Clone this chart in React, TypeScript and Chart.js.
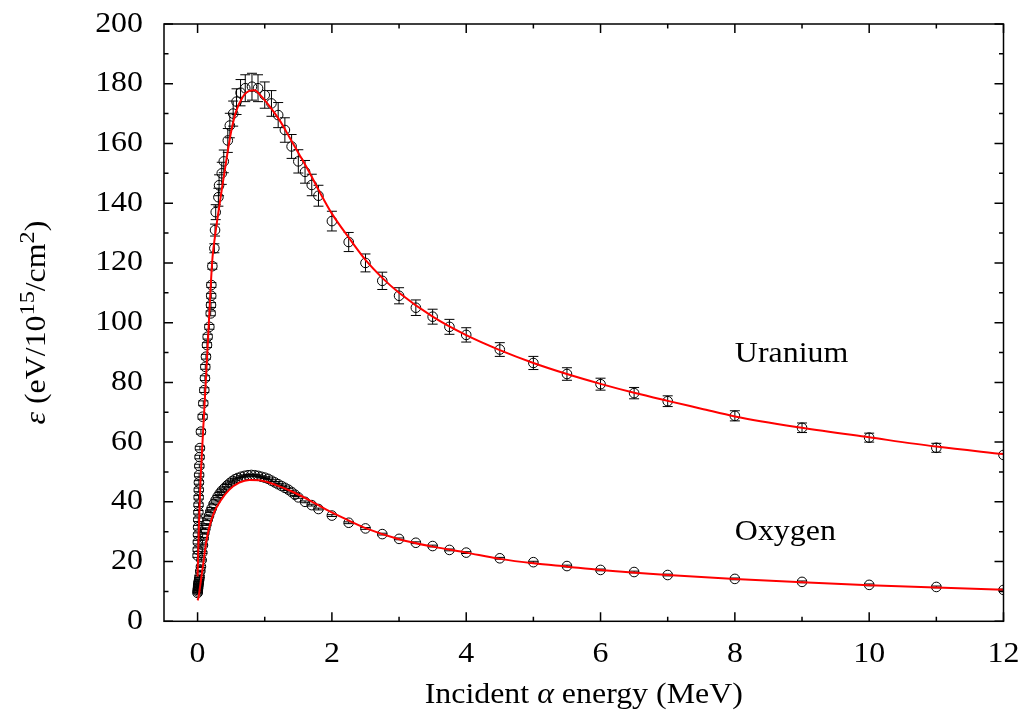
import React, { useEffect, useRef } from 'react';
import { Chart, registerables } from 'chart.js';

Chart.register(...registerables);

// ---------------- data ----------------
const uraniumEnergy = [
  0.0, 0.002, 0.004, 0.006, 0.008, 0.01, 0.012, 0.014, 0.016, 0.018,
  0.02, 0.023, 0.026, 0.03, 0.035,
  0.05, 0.075, 0.085, 0.1, 0.11, 0.115, 0.125, 0.14, 0.15, 0.175,
  0.195, 0.2, 0.203, 0.205, 0.22, 0.25, 0.26, 0.27, 0.31, 0.32,
  0.36, 0.39, 0.45, 0.48, 0.53, 0.58, 0.64, 0.71, 0.81, 0.9,
  1.0, 1.1, 1.2, 1.3, 1.4, 1.5, 1.6, 1.7, 1.8,
  2, 2.25, 2.5, 2.75, 3, 3.25, 3.5, 3.75, 4,
  4.5, 5, 5.5, 6, 6.5, 7,
  8, 9, 10, 11, 12,
];
const uraniumValue = [
  22, 24, 26.5, 29, 31.5, 34, 36.5, 39, 41.5, 44,
  46.5, 49, 52, 55, 58,
  63.5, 68.5, 73, 77.4, 81.4, 85.2, 88.6, 92.5, 95.3, 98.6,
  103.1, 105.9, 109, 112.6, 118.9, 124.9, 131, 137, 142, 146,
  150, 154, 161, 166, 170, 174, 177, 178.5, 179, 178.5,
  176.2, 173.4, 169.5, 164.5, 159, 154, 150.5, 146.1, 142.5,
  134, 127, 120, 114, 109, 105, 102, 98.6, 95.9,
  91, 86.5, 82.8, 79.4, 76.4, 73.7,
  68.8, 64.8, 61.5, 58.1, 55.7,
];
const uraniumError = [
  0.6, 0.6, 0.6, 0.6, 0.6, 0.6, 0.6, 0.6, 0.6, 0.6,
  0.6, 0.6, 0.6, 0.6, 0.6,
  0.8, 0.8, 0.8, 0.8, 0.8, 0.8, 0.8, 0.8, 0.8, 0.8,
  0.8, 0.8, 0.8, 0.8, 1.0, 1.5, 2.0, 2.5, 3.0, 3.5,
  3.7, 3.8, 4.0, 4.1, 4.2, 4.3, 4.4, 4.5, 4.5, 4.5,
  4.4, 4.3, 4.2, 4.1, 4.0, 3.9, 3.8, 3.6, 3.5,
  3.3, 3.2, 3.0, 2.9, 2.7, 2.6, 2.5, 2.5, 2.4,
  2.3, 2.2, 2.1, 2.0, 1.9, 1.8,
  1.7, 1.6, 1.5, 1.5, 0,
];

const oxygenEnergy = [
  0.0, 0.002, 0.004, 0.006, 0.008, 0.01, 0.013, 0.016, 0.02, 0.025,
  0.03, 0.04, 0.05, 0.06, 0.07, 0.08, 0.09, 0.1, 0.115, 0.13,
  0.15, 0.17, 0.19, 0.21, 0.24, 0.27, 0.3, 0.33, 0.36, 0.4,
  0.44, 0.48, 0.52, 0.56, 0.6, 0.65, 0.7, 0.75, 0.8, 0.85,
  0.9, 0.95, 1.0, 1.05, 1.1, 1.15, 1.2, 1.25, 1.3, 1.35,
  1.4, 1.45, 1.5, 1.6, 1.7, 1.8, 2, 2.25, 2.5, 2.75,
  3, 3.25, 3.5, 3.75, 4, 4.5, 5, 5.5, 6, 6.5,
  7, 8, 9, 10, 11, 12,
];
const oxygenValue = [
  9.5, 10, 10.5, 11, 11.5, 12, 12.5, 13, 13.5, 14.2,
  15, 16.8, 18.3, 20.5, 23, 25.5, 27.8, 29.5, 31, 32.4,
  34, 35.3, 36.7, 37.8, 39.3, 40.6, 41.8, 42.8, 43.7, 44.6,
  45.5, 46.3, 47, 47.6, 48, 48.4, 48.7, 48.9, 49, 48.9,
  48.7, 48.4, 48.1, 47.7, 47.1, 46.5, 45.9, 45.3, 44.7, 44.1,
  43.3, 42.4, 41.5, 40.0, 38.9, 37.6, 35.4, 33.0, 31.1, 29.2,
  27.6, 26.3, 25.2, 23.9, 23.0, 21.1, 19.8, 18.5, 17.2, 16.5,
  15.5, 14.2, 13.2, 12.2, 11.5, 10.5,
];
const oxygenErrorBar = 0.3;

const uraniumFitEnergy = [
  0, 0.01, 0.02, 0.04, 0.066, 0.1, 0.15, 0.2, 0.223, 0.26,
  0.3, 0.37, 0.45, 0.5, 0.57, 0.67, 0.77, 0.85, 0.94, 1.07,
  1.22, 1.37, 1.51, 1.66, 1.8, 2, 2.25, 2.5, 2.75, 3,
  3.5, 4, 4.5, 5, 5.5, 6, 6.5, 7, 7.5, 8,
  9, 10, 11, 12,
];
const uraniumFitValue = [
  15, 24, 32, 45, 57, 71, 92, 114, 122, 129,
  135.5, 146, 157.5, 164, 170.5, 175.5, 177.6, 177.8, 176, 172.5,
  167.8, 162, 156.5, 150.5, 144.5, 136.5, 128.5, 121, 115, 110,
  102, 95.8, 90.8, 86.5, 82.8, 79.5, 76.5, 73.8, 71.2, 68.6,
  64.8, 61.6, 58.5, 56,
];

const oxygenFitEnergy = [
  0, 0.015, 0.05, 0.085, 0.125, 0.174, 0.25, 0.35, 0.47, 0.62,
  0.77, 0.92, 1.17, 1.42, 1.66, 1.91, 2.16, 2.5, 3, 3.5,
  4, 4.5, 5, 5.5, 6, 7, 8, 9, 10, 11,
  12,
];
const oxygenFitValue = [
  7, 8.2, 13.8, 19.4, 26.1, 31.5, 36.7, 40.6, 44, 46.4,
  47.3, 47.2, 45.6, 43.3, 40.6, 37.5, 34.7, 31.2, 27.5, 25,
  23, 20.9, 19.4, 18.3, 17.2, 15.5, 14.2, 13.1, 12.1, 11.3,
  10.6,
];

const xMajorTicks = [0, 2, 4, 6, 8, 10, 12];
const xMinorTicks = [1, 3, 5, 7, 9, 11];
const yMajorTicks = [0, 20, 40, 60, 80, 100, 120, 140, 160, 180, 200];
const yMinorTicks = [10, 30, 50, 70, 90, 110, 130, 150, 170, 190];

const seriesLabels = ['Uranium', 'Oxygen'];
const seriesLabelX = [8, 8];
const seriesLabelY = [86.9, 27.2];

const xTitleParts = ['Incident ', 'α', ' energy (MeV)'];

// ---------------- style ----------------
const SERIF = '"Liberation Serif", "DejaVu Serif", "Times New Roman", serif';
const FONT_SIZE = 29;
const STRETCH = 1.1;
const W = 1025;
const H = 715;

const toPoints = (xs: number[], ys: number[]) => xs.map((x, i) => ({ x, y: ys[i] }));

// draws horizontally stretched text; align: 'left' | 'center' | 'right'
function stretchedText(ctx: any, parts: { t: string; f: string; dy?: number }[], x: number, y: number, align: string) {
  let w = 0;
  parts.forEach((p) => {
    ctx.font = p.f;
    w += ctx.measureText(p.t).width;
  });
  ctx.save();
  ctx.translate(x, y);
  ctx.scale(STRETCH, 1);
  let cx = align === 'left' ? 0 : align === 'right' ? -w : -w / 2;
  ctx.textAlign = 'left';
  ctx.textBaseline = 'alphabetic';
  parts.forEach((p) => {
    ctx.font = p.f;
    ctx.fillText(p.t, cx, p.dy || 0);
    cx += ctx.measureText(p.t).width;
  });
  ctx.restore();
}

const overlayPlugin = {
  id: 'overlay',
  beforeDatasetsDraw(chart: any) {
    const { ctx, chartArea, scales } = chart;
    const xs = scales.x;
    const ys = scales.y;
    ctx.save();
    ctx.beginPath();
    ctx.rect(chartArea.left, chartArea.top, chartArea.right - chartArea.left, chartArea.bottom - chartArea.top);
    ctx.clip();
    ctx.strokeStyle = '#000';
    ctx.lineWidth = 1;
    const cap = 5;
    const bars = (ex: number[], ey: number[], err: (i: number) => number) => {
      for (let i = 0; i < ex.length; i++) {
        const e = err(i);
        if (!e) continue;
        const px = xs.getPixelForValue(ex[i]);
        const t = ys.getPixelForValue(ey[i] + e);
        const b = ys.getPixelForValue(ey[i] - e);
        ctx.beginPath();
        ctx.moveTo(px, t);
        ctx.lineTo(px, b);
        ctx.moveTo(px - cap, t);
        ctx.lineTo(px + cap, t);
        ctx.moveTo(px - cap, b);
        ctx.lineTo(px + cap, b);
        ctx.stroke();
      }
    };
    bars(uraniumEnergy, uraniumValue, (i) => uraniumError[i]);
    bars(oxygenEnergy, oxygenValue, () => oxygenErrorBar);
    ctx.restore();
  },
  afterDraw(chart: any) {
    const { ctx, chartArea, scales } = chart;
    const xs = scales.x;
    const ys = scales.y;
    const { left, right, top, bottom } = chartArea;
    ctx.save();
    ctx.strokeStyle = '#000';
    ctx.fillStyle = '#000';
    ctx.lineWidth = 1.5;
    ctx.lineCap = 'butt';
    // ticks (inward, mirrored)
    const major = 9;
    const minor = 4.5;
    const tickX = (v: number, len: number) => {
      const p = xs.getPixelForValue(v);
      ctx.beginPath();
      ctx.moveTo(p, bottom);
      ctx.lineTo(p, bottom - len);
      ctx.moveTo(p, top);
      ctx.lineTo(p, top + len);
      ctx.stroke();
    };
    const tickY = (v: number, len: number) => {
      const p = ys.getPixelForValue(v);
      ctx.beginPath();
      ctx.moveTo(left, p);
      ctx.lineTo(left + len, p);
      ctx.moveTo(right, p);
      ctx.lineTo(right - len, p);
      ctx.stroke();
    };
    xMajorTicks.forEach((v) => tickX(v, major));
    xMinorTicks.forEach((v) => tickX(v, minor));
    yMajorTicks.forEach((v) => tickY(v, major));
    yMinorTicks.forEach((v) => tickY(v, minor));
    // frame
    ctx.strokeRect(left, top, right - left, bottom - top);

    const font = `${FONT_SIZE}px ${SERIF}`;
    const ifont = `italic ${FONT_SIZE}px ${SERIF}`;

    // tick labels
    xMajorTicks.forEach((v) => {
      stretchedText(ctx, [{ t: String(v), f: font }], xs.getPixelForValue(v), bottom + 41, 'center');
    });
    yMajorTicks.forEach((v) => {
      stretchedText(ctx, [{ t: String(v), f: font }], left - 21, ys.getPixelForValue(v) + 7.5, 'right');
    });

    // series labels
    seriesLabels.forEach((t, i) => {
      stretchedText(ctx, [{ t, f: font }], xs.getPixelForValue(seriesLabelX[i]), ys.getPixelForValue(seriesLabelY[i]), 'left');
    });

    // x title
    stretchedText(
      ctx,
      xTitleParts.map((t, i) => ({ t, f: i === 1 ? ifont : font })),
      (left + right) / 2,
      703,
      'center'
    );

    // y title (rotated) with superscripts
    const supFont = `${Math.round(FONT_SIZE * 0.75)}px ${SERIF}`;
    ctx.save();
    ctx.translate(45, (top + bottom) / 2);
    ctx.rotate(-Math.PI / 2);
    stretchedText(
      ctx,
      [
        { t: 'ε', f: ifont },
        { t: ' (eV/10', f: font },
        { t: '15', f: supFont, dy: -11 },
        { t: '/cm', f: font },
        { t: '2', f: supFont, dy: -11 },
        { t: ')', f: font },
      ],
      0,
      0,
      'center'
    );
    ctx.restore();
    ctx.restore();
  },
};

export default function App() {
  const ref = useRef<HTMLCanvasElement | null>(null);

  useEffect(() => {
    if (!ref.current) return;
    const pointStyle = {
      pointRadius: 4.8,
      pointBorderWidth: 1,
      pointBorderColor: '#000',
      pointBackgroundColor: 'rgba(0,0,0,0)',
      showLine: false,
    };
    const chart = new Chart(ref.current, {
      type: 'scatter',
      data: {
        datasets: [
          {
            label: 'Uranium fit',
            data: toPoints(uraniumFitEnergy, uraniumFitValue),
            showLine: true,
            borderColor: '#ff0000',
            borderWidth: 2,
            pointRadius: 0,
            cubicInterpolationMode: 'monotone',
          },
          {
            label: 'Oxygen fit',
            data: toPoints(oxygenFitEnergy, oxygenFitValue),
            showLine: true,
            borderColor: '#ff0000',
            borderWidth: 2,
            pointRadius: 0,
            cubicInterpolationMode: 'monotone',
          },
          { label: 'Uranium', data: toPoints(uraniumEnergy, uraniumValue), ...pointStyle },
          { label: 'Oxygen', data: toPoints(oxygenEnergy, oxygenValue), ...pointStyle },
        ] as any,
      },
      options: {
        responsive: false,
        devicePixelRatio: 1,
        animation: false,
        events: [],
        layout: { padding: { top: 24, right: 21.5, left: 164, bottom: 93.7 } },
        plugins: {
          legend: { display: false },
          tooltip: { enabled: false },
          title: { display: false },
        },
        scales: {
          x: { type: 'linear', min: -0.5, max: 12, display: false },
          y: { type: 'linear', min: 0, max: 200, display: false },
        },
      } as any,
      plugins: [overlayPlugin],
    });
    return () => chart.destroy();
  }, []);

  return (
    <div style={{ position: 'absolute', left: 0, top: 0, width: W, height: H, background: '#fff' }}>
      <canvas ref={ref} width={W} height={H} style={{ display: 'block', width: W, height: H }} />
    </div>
  );
}
